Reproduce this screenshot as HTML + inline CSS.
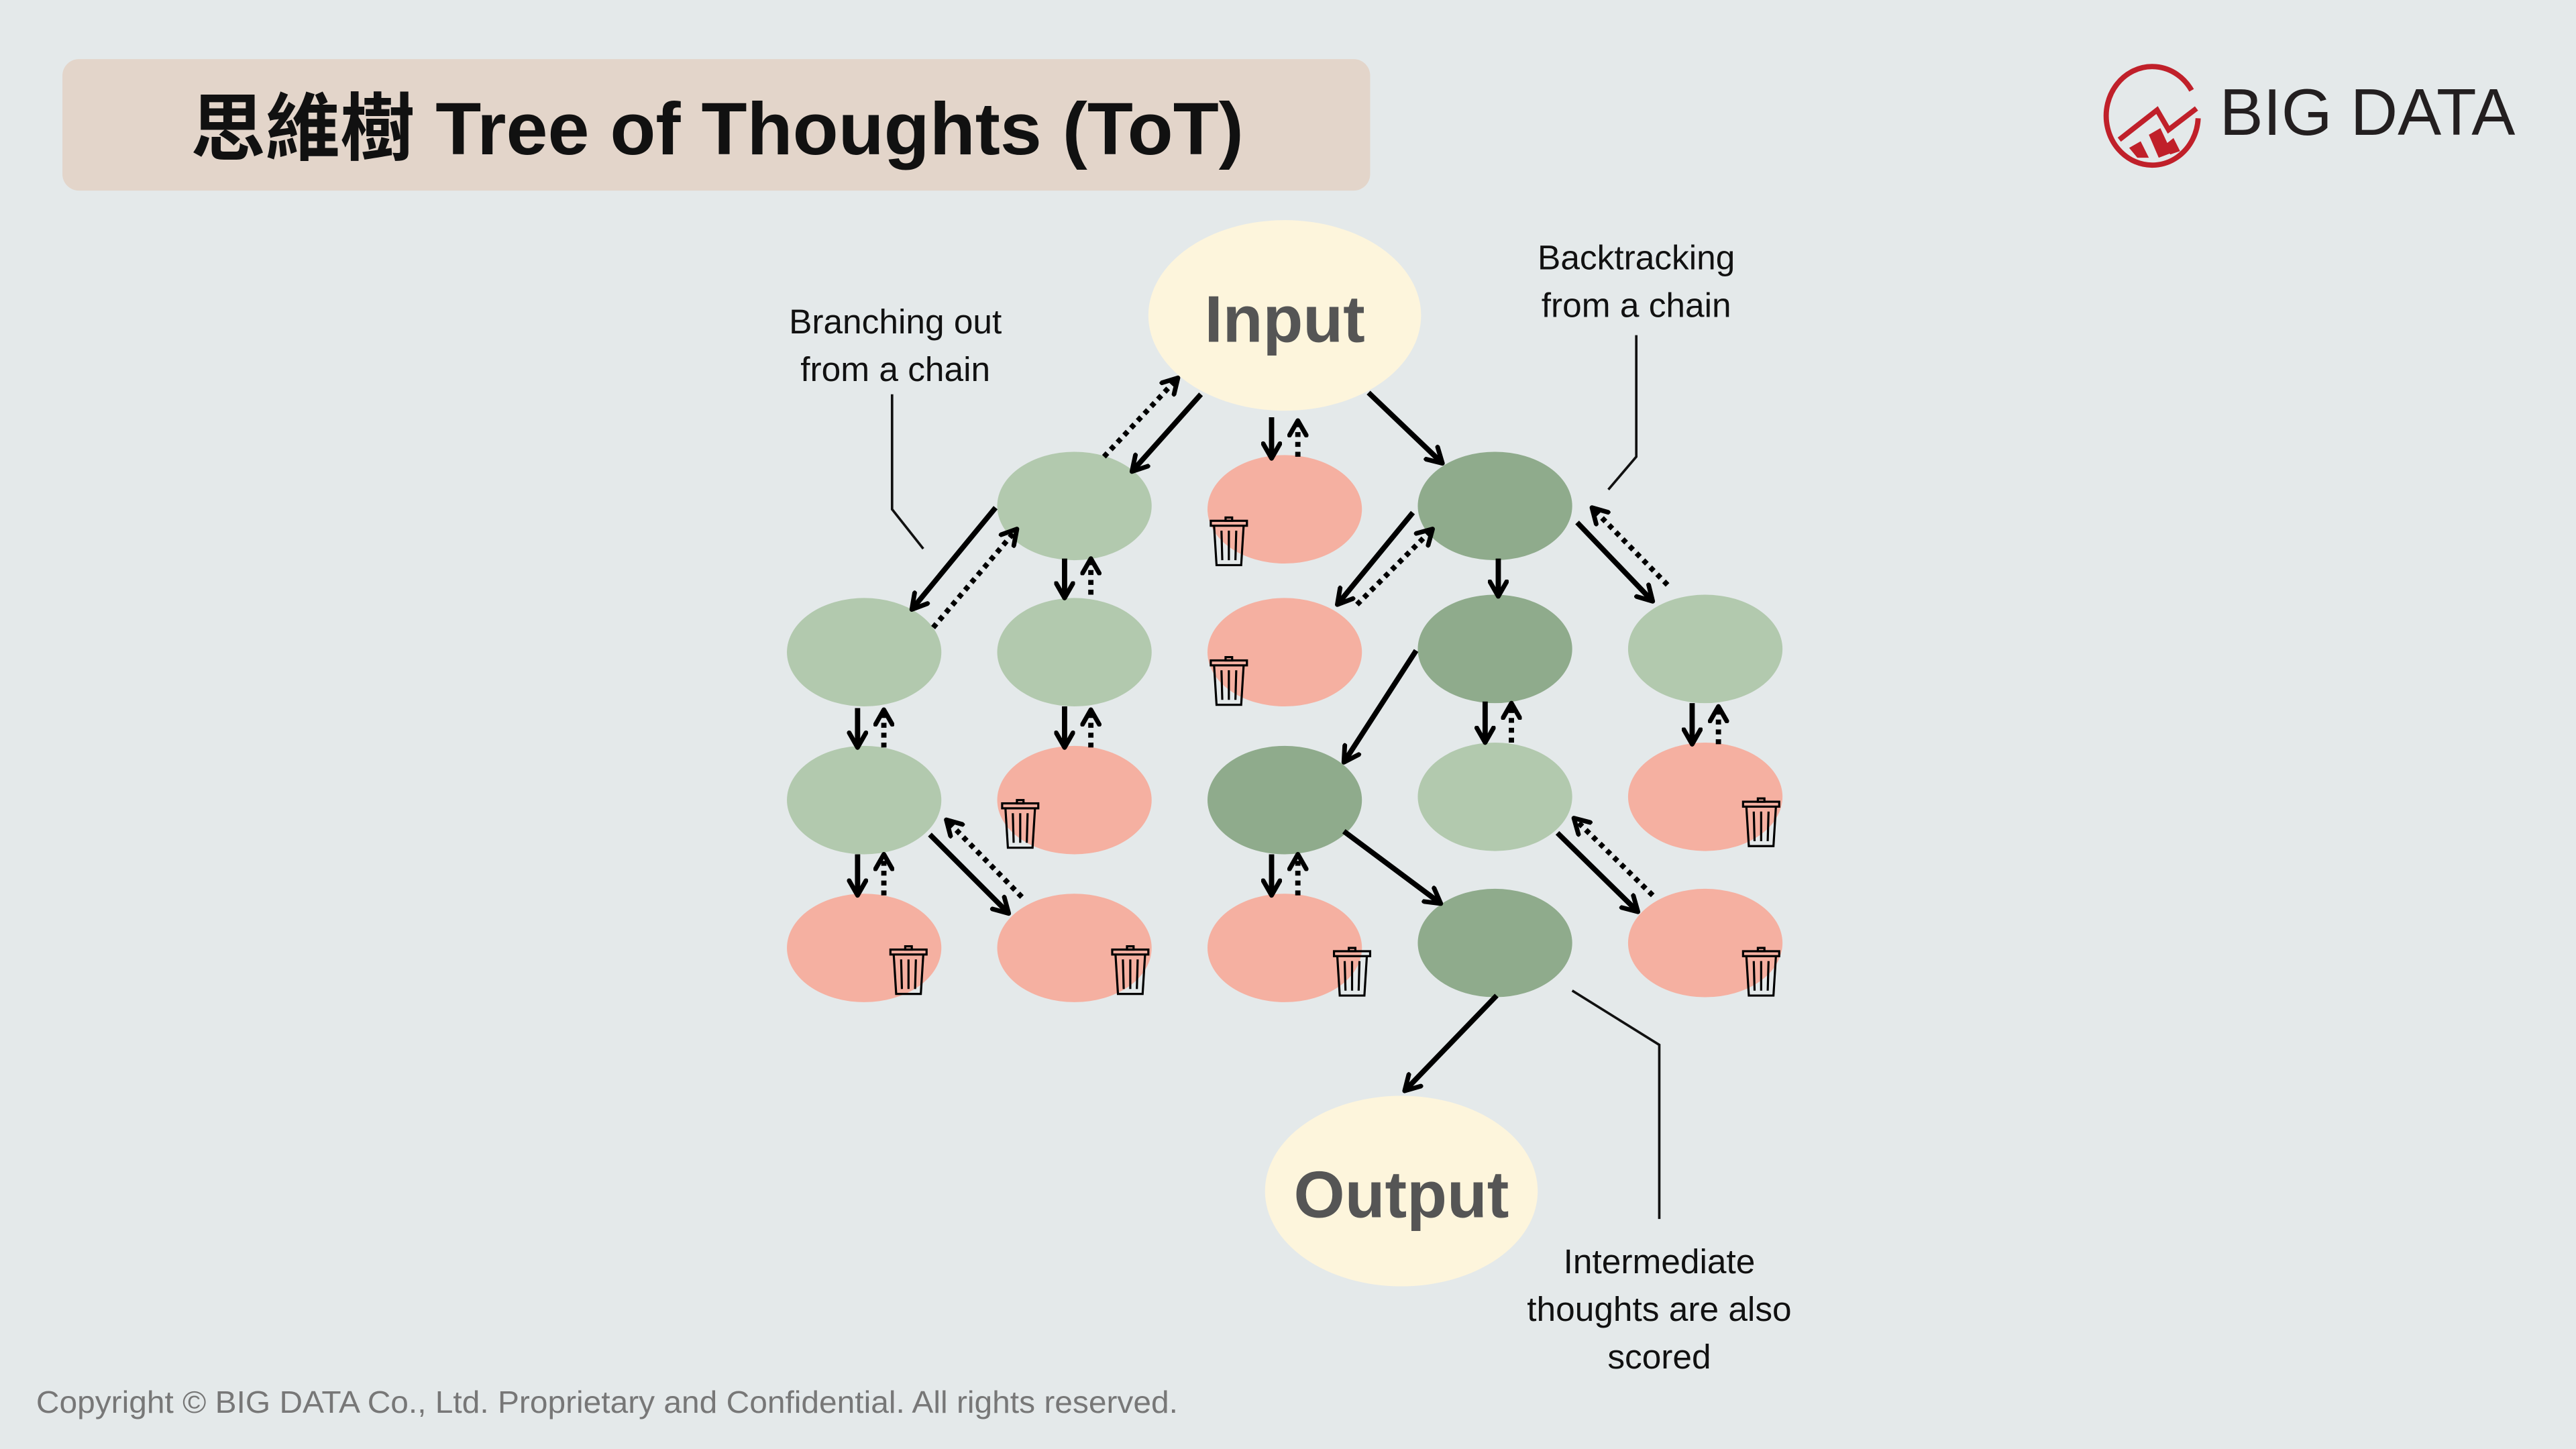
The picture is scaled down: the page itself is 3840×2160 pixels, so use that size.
<!DOCTYPE html>
<html><head><meta charset="utf-8"><style>
html,body{margin:0;padding:0;background:#e4e9ea;}
svg{display:block;}
text{font-family:"Liberation Sans","Noto Sans CJK TC",sans-serif;}
</style></head><body>
<svg width="3840" height="2160" viewBox="0 0 1568 882" xmlns="http://www.w3.org/2000/svg">
<defs>
<marker id="ah" viewBox="0 0 10 10" refX="8" refY="5" markerWidth="4" markerHeight="4" orient="auto" markerUnits="strokeWidth">
<path d="M1,1 L8,5 L1,9" fill="none" stroke="#000" stroke-width="2.2" stroke-linecap="round" stroke-linejoin="round"/>
</marker>
<g id="trash" fill="none" stroke="#000" stroke-width="1.3">
<rect x="-11" y="-12" width="22" height="3"/>
<rect x="-2" y="-14" width="4" height="2"/>
<path d="M-9,-9 L-7.5,15 L7.5,15 L9,-9"/>
<path d="M-4.5,-6 L-4,12 M0,-6 L0,12 M4.5,-6 L4,12"/>
</g>
</defs>
<rect width="1568" height="882" fill="#e4e9ea"/>
<rect x="38" y="36" width="796" height="80" rx="10" fill="#e3d5ca"/>
<text x="116" y="94" font-size="45" font-weight="bold" fill="#111" textLength="641" lengthAdjust="spacingAndGlyphs">思維樹 Tree of Thoughts (ToT)</text>

<!-- logo -->
<g fill="none" stroke="#c0202a" stroke-width="3.2">
<path d="M1334,55 A28,30 0 1 0 1338,72"/>
<path d="M1290,85 L1313,67 L1320,79 L1337,66"/>
</g>
<path d="M1296,90 L1303,86 L1308,96 L1301,96 Z M1308,82 L1315,78 L1322,93 L1314,96 Z M1318,88 L1323,84 L1327,92 L1321,94 Z" fill="#c0202a"/>
<text x="1351" y="82" font-size="40" fill="#231f20" textLength="180" lengthAdjust="spacingAndGlyphs">BIG DATA</text>

<!-- nodes -->
<ellipse cx="782" cy="192" rx="83" ry="58" fill="#fdf5dc"/>
<text x="782" y="208" text-anchor="middle" font-size="40" font-weight="bold" fill="#555">Input</text>
<ellipse cx="853" cy="725" rx="83" ry="58" fill="#fdf5dc"/>
<text x="853" y="741" text-anchor="middle" font-size="40" font-weight="bold" fill="#555">Output</text>

<g fill="#b2c9ae">
<ellipse cx="654" cy="308" rx="47" ry="33"/>
<ellipse cx="526" cy="397" rx="47" ry="33"/>
<ellipse cx="654" cy="397" rx="47" ry="33"/>
<ellipse cx="1038" cy="395" rx="47" ry="33"/>
<ellipse cx="526" cy="487" rx="47" ry="33"/>
<ellipse cx="910" cy="485" rx="47" ry="33"/>
</g>
<g fill="#8fab8c">
<ellipse cx="910" cy="308" rx="47" ry="33"/>
<ellipse cx="910" cy="395" rx="47" ry="33"/>
<ellipse cx="782" cy="487" rx="47" ry="33"/>
<ellipse cx="910" cy="574" rx="47" ry="33"/>
</g>
<g fill="#f5b0a1">
<ellipse cx="782" cy="310" rx="47" ry="33"/>
<ellipse cx="782" cy="397" rx="47" ry="33"/>
<ellipse cx="654" cy="487" rx="47" ry="33"/>
<ellipse cx="1038" cy="485" rx="47" ry="33"/>
<ellipse cx="526" cy="577" rx="47" ry="33"/>
<ellipse cx="654" cy="577" rx="47" ry="33"/>
<ellipse cx="782" cy="577" rx="47" ry="33"/>
<ellipse cx="1038" cy="574" rx="47" ry="33"/>
</g>
<use href="#trash" x="748" y="329"/>
<use href="#trash" x="748" y="414"/>
<use href="#trash" x="621" y="501"/>
<use href="#trash" x="1072" y="500"/>
<use href="#trash" x="553" y="590"/>
<use href="#trash" x="688" y="590"/>
<use href="#trash" x="823" y="591"/>
<use href="#trash" x="1072" y="591"/>

<!-- arrows -->
<g stroke="#000" stroke-width="3.2" fill="none" marker-end="url(#ah)" stroke-linecap="butt">
<line x1="731" y1="240" x2="689" y2="287"/>
<line x1="774" y1="254" x2="774" y2="279"/>
<line x1="833" y1="239" x2="878" y2="282"/>
<line x1="606" y1="309" x2="555" y2="371"/>
<line x1="648" y1="340" x2="648" y2="364"/>
<line x1="860" y1="312" x2="814" y2="368"/>
<line x1="912" y1="340" x2="912" y2="363"/>
<line x1="960" y1="318" x2="1006" y2="366"/>
<line x1="522" y1="431" x2="522" y2="455"/>
<line x1="648" y1="430" x2="648" y2="455"/>
<line x1="862" y1="396" x2="818" y2="464"/>
<line x1="904" y1="427" x2="904" y2="452"/>
<line x1="1030" y1="428" x2="1030" y2="453"/>
<line x1="522" y1="520" x2="522" y2="545"/>
<line x1="566" y1="508" x2="614" y2="556"/>
<line x1="774" y1="520" x2="774" y2="545"/>
<line x1="818" y1="506" x2="877" y2="550"/>
<line x1="948" y1="507" x2="997" y2="555"/>
<line x1="911" y1="606" x2="855" y2="664"/>
</g>
<g stroke="#000" stroke-width="3.2" fill="none" marker-end="url(#ah)" stroke-dasharray="3 3">
<line x1="672" y1="278" x2="717" y2="230"/>
<line x1="790" y1="278" x2="790" y2="256"/>
<line x1="568" y1="382" x2="619" y2="322"/>
<line x1="664" y1="362" x2="664" y2="340"/>
<line x1="826" y1="368" x2="872" y2="322"/>
<line x1="1015" y1="356" x2="969" y2="309"/>
<line x1="538" y1="455" x2="538" y2="432"/>
<line x1="664" y1="455" x2="664" y2="432"/>
<line x1="920" y1="452" x2="920" y2="428"/>
<line x1="1046" y1="453" x2="1046" y2="430"/>
<line x1="538" y1="545" x2="538" y2="520"/>
<line x1="622" y1="546" x2="576" y2="499"/>
<line x1="790" y1="545" x2="790" y2="520"/>
<line x1="1006" y1="545" x2="958" y2="498"/>
</g>

<!-- annotations -->
<g fill="none" stroke="#111" stroke-width="1.5">
<polyline points="543,240 543,310 562,334"/>
<polyline points="996,204 996,278 979,298"/>
<polyline points="957,603 1010,636 1010,742"/>
</g>
<g font-size="21" fill="#111" text-anchor="middle">
<text x="545" y="203">Branching out</text>
<text x="545" y="232">from a chain</text>
<text x="996" y="164">Backtracking</text>
<text x="996" y="193">from a chain</text>
<text x="1010" y="775">Intermediate</text>
<text x="1010" y="804">thoughts are also</text>
<text x="1010" y="833">scored</text>
</g>
<text x="22" y="860" font-size="19" fill="#777" textLength="695" lengthAdjust="spacingAndGlyphs">Copyright © BIG DATA Co., Ltd. Proprietary and Confidential. All rights reserved.</text>
</svg>
</body></html>
